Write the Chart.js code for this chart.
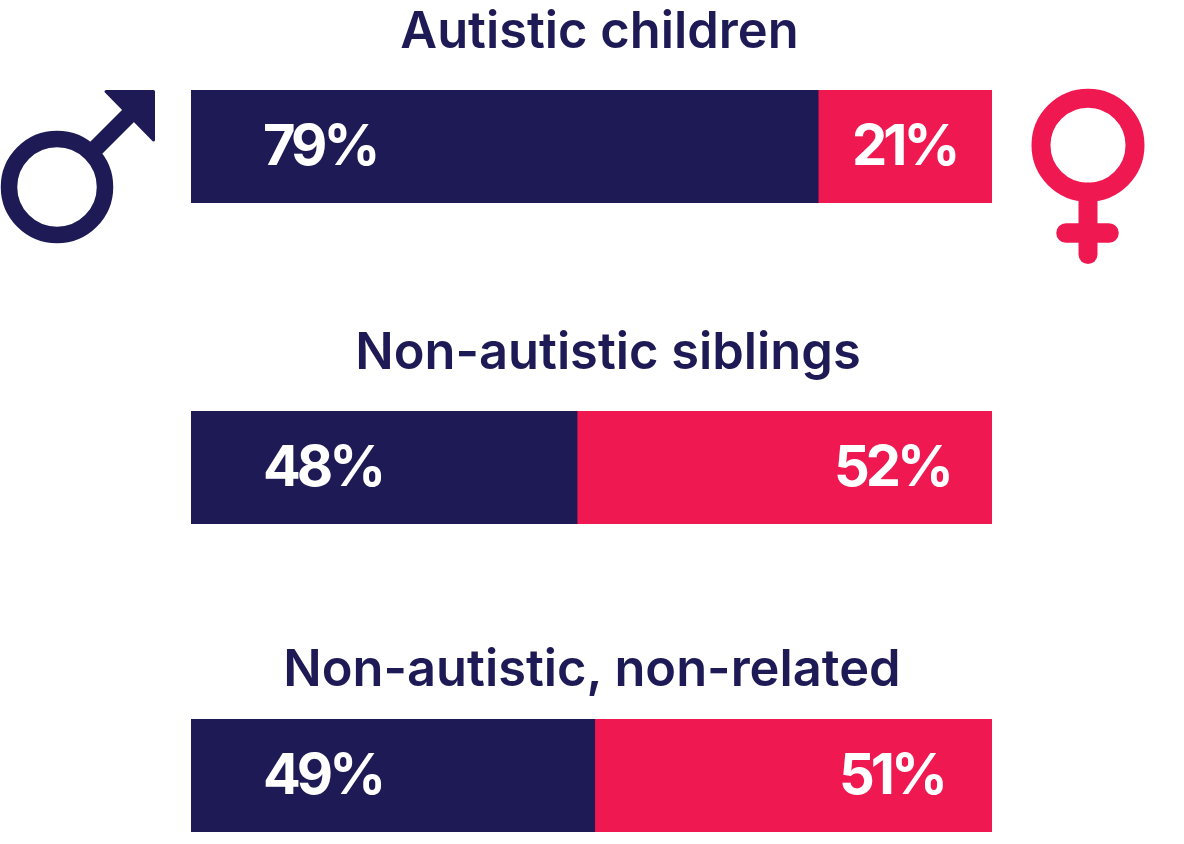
<!DOCTYPE html>
<html>
<head>
<meta charset="utf-8">
<script src="https://cdn.jsdelivr.net/npm/chart.js@4"></script>
<style>
  html, body { margin: 0; padding: 0; background: #fff; }
  body { position: relative; width: 1184px; height: 844px; overflow: hidden; }
  .panel { position: absolute; left: 191px; width: 801px; height: 113px; }
  .title { position: absolute; margin: 0; color: #1e1a55; transform: translateX(-50%);
           font: 600 50.600px "Inter", sans-serif; line-height: 60px; white-space: nowrap; }
  svg { position: absolute; }
</style>
</head>
<body>
<h2 class="title" id="t0" style="left:599.500px;top:0"></h2>
<h2 class="title" id="t1" style="left:608px;top:321px"></h2>
<h2 class="title" id="t2" style="left:592px;top:638px"></h2>
<div class="panel" style="top:90px"><canvas id="c0"></canvas></div>
<div class="panel" style="top:411px"><canvas id="c1"></canvas></div>
<div class="panel" style="top:719px"><canvas id="c2"></canvas></div>

<svg style="left:0;top:88px" width="160" height="160" viewBox="0 0 160 160" fill="none">
  <circle cx="57" cy="99" r="48" stroke="#1e1a55" stroke-width="16.500"/>
  <path d="M90 66 L135 21" stroke="#1e1a55" stroke-width="17"/>
  <path d="M106 3.500 H153.500 V52 Z" fill="#1e1a55" stroke="#1e1a55" stroke-width="3" stroke-linejoin="round"/>
</svg>
<svg style="left:1020px;top:80px" width="140" height="190" viewBox="0 0 140 190" fill="none">
  <circle cx="68" cy="65.300" r="47" stroke="#f01850" stroke-width="19"/>
  <path d="M68 112 V174.500" stroke="#f01850" stroke-width="19" stroke-linecap="round"/>
  <path d="M46 153 H89" stroke="#f01850" stroke-width="19.500" stroke-linecap="round"/>
</svg>

<script>
const categories = ['Autistic children', 'Non-autistic siblings', 'Non-autistic, non-related'];
// printed percentages
const maleLabels = ['79%', '48%', '49%'];
const femaleLabels = ['21%', '52%', '51%'];
// bar lengths as drawn in the picture, they don't quite follow the printed numbers
const maleValues = [78.3, 48.2, 50.4];
const femaleValues = [21.7, 51.8, 49.6];
const navy = '#1e1a55';
const red = '#f01850';

// left edge of the white labels inside each bar
const maleLabelX = [72, 72, 72];
const femaleLabelX = [661, 643, 648];

const percentLabels = {
  id: 'percentLabels',
  afterDatasetsDraw(chart, args, opts) {
    const ctx = chart.ctx;
    const i = opts.index;
    const y = chart.getDatasetMeta(0).data[0].y + 2;
    ctx.save();
    ctx.fillStyle = '#fff';
    ctx.font = '700 56px Inter, sans-serif';
    ctx.letterSpacing = '-4px';
    ctx.textBaseline = 'middle';
    ctx.textAlign = 'left';
    ctx.fillText(maleLabels[i], maleLabelX[i], y);
    ctx.fillText(femaleLabels[i], femaleLabelX[i], y);
    ctx.restore();
  }
};

categories.forEach((name, i) => {
  document.getElementById('t' + i).textContent = name;
  new Chart(document.getElementById('c' + i), {
    type: 'bar',
    data: {
      labels: [name],
      datasets: [
        { label: 'Male', data: [maleValues[i]], backgroundColor: navy },
        { label: 'Female', data: [femaleValues[i]], backgroundColor: red }
      ]
    },
    options: {
      indexAxis: 'y',
      responsive: true,
      maintainAspectRatio: false,
      animation: false,
      layout: { padding: 0 },
      categoryPercentage: 1,
      barPercentage: 1,
      scales: {
        x: { stacked: true, display: false, min: 0, max: 100 },
        y: { stacked: true, display: false }
      },
      plugins: {
        legend: { display: false },
        tooltip: { enabled: false },
        percentLabels: { index: i }
      }
    },
    plugins: [percentLabels]
  });
});
</script>
</body>
</html>
